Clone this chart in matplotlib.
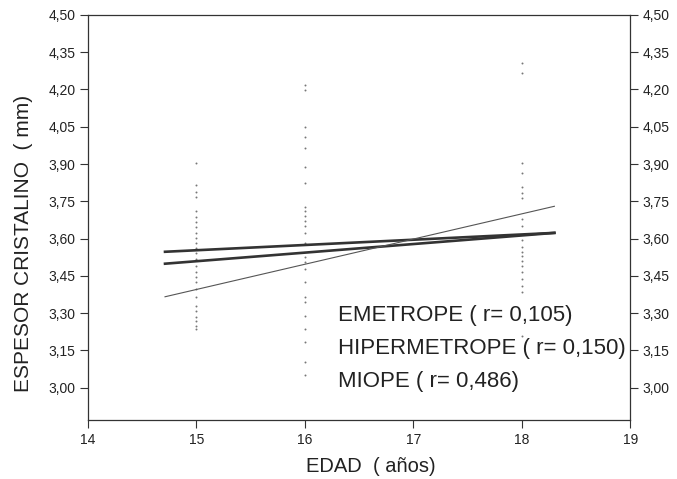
import matplotlib
matplotlib.use('Agg')
import matplotlib.pyplot as plt
import numpy as np

plt.rcParams['font.family'] = ['Liberation Sans', 'DejaVu Sans']

# Individual measurements (edad, espesor) grouped by age
edad_15 = [3.906, 3.817, 3.789, 3.769, 3.709, 3.685, 3.665, 3.645, 3.624, 3.604,
           3.584, 3.564, 3.544, 3.516, 3.488, 3.464, 3.444, 3.424, 3.396, 3.367,
           3.327, 3.307, 3.283, 3.267, 3.247, 3.235]
edad_16 = [4.219, 4.199, 4.050, 4.010, 3.966, 3.890, 3.825, 3.729, 3.709, 3.689,
           3.669, 3.649, 3.624, 3.584, 3.524, 3.504, 3.476, 3.424, 3.367, 3.343,
           3.287, 3.235, 3.183, 3.102, 3.052]
edad_18 = [4.307, 4.267, 3.906, 3.865, 3.809, 3.785, 3.765, 3.677, 3.649, 3.596,
           3.568, 3.548, 3.528, 3.508, 3.488, 3.464, 3.436, 3.408, 3.384, 3.207]

# Regression lines: endpoints (edad) and fitted espesor
x_fit = [14.71, 18.30]
emetrope = [3.547, 3.623]
hipermetrope = [3.499, 3.623]
miope = [3.366, 3.730]

labels = ['EMETROPE ( r= 0,105)', 'HIPERMETROPE ( r= 0,150)', 'MIOPE ( r= 0,486)']
yticks = [3.00, 3.15, 3.30, 3.45, 3.60, 3.75, 3.90, 4.05, 4.20, 4.35, 4.50]
xticks = [14, 15, 16, 17, 18, 19]

fig = plt.figure(figsize=(6.77, 4.79), dpi=100)
ax = fig.add_axes([0.130, 0.123, 0.801, 0.846])

txt = '#222222'
for x, vals in [(15, edad_15), (16, edad_16), (18, edad_18)]:
    ax.scatter([x] * len(vals), vals, s=2.0, color='#777777', linewidths=0, zorder=2)

ax.plot(x_fit, emetrope, color='#333333', lw=1.9, zorder=3)
ax.plot(x_fit, hipermetrope, color='#333333', lw=1.9, zorder=3)
ax.plot(x_fit, miope, color='#555555', lw=0.8, zorder=3)

ax.set_xlim(14, 19)
ax.set_ylim(2.87, 4.5)
ax.set_xticks(xticks)
ax.set_yticks(yticks)
ax.set_yticklabels([f'{v:.2f}'.replace('.', ',') for v in yticks])

ax.tick_params(axis='both', direction='out', length=6, width=0.8, colors='#333333',
               labelsize=10, labelcolor=txt)
ax.tick_params(axis='y', right=True, labelright=True, pad=3)
ax.tick_params(axis='x', pad=3)
for s in ax.spines.values():
    s.set_linewidth(0.9)
    s.set_color('#333333')

ax.set_xlabel('EDAD  ( años)', fontsize=14.5, color=txt)
ax.set_ylabel('ESPESOR CRISTALINO  ( mm)', fontsize=15, color=txt)
ax.xaxis.set_label_coords(0.522, -0.09)
ax.yaxis.set_label_coords(-0.102, 0.435)

for i, lab in enumerate(labels):
    ax.text(0.461, 0.258 - i * 0.081, lab, transform=ax.transAxes, fontsize=16,
            color=txt, va='center', ha='left')

fig.savefig('out.png', dpi=100, facecolor='white')
